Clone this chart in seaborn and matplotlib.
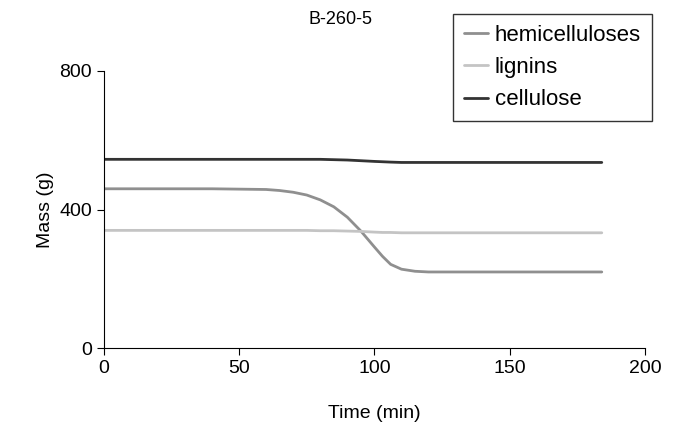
import matplotlib
matplotlib.use("Agg")
import matplotlib.pyplot as plt
import pandas as pd
import seaborn as sns

sns.set_style("ticks", {"text.color": "black", "axes.labelcolor": "black",
                        "xtick.color": "black", "ytick.color": "black",
                        "axes.edgecolor": "black"})
plt.rcParams["font.family"] = ["Liberation Sans", "DejaVu Sans"]

time = [0, 20, 40, 60, 65, 70, 75, 80, 85, 90, 95, 100, 103, 106, 110, 115, 120, 140, 160, 184]
hemicelluloses = [460, 460, 460, 458, 455, 450, 442, 428, 408, 378, 338, 292, 265, 242, 228, 222, 220, 220, 220, 220]
lignins = [340, 340, 340, 340, 340, 340, 340, 339, 339, 338, 337, 335, 334, 334, 333, 333, 333, 333, 333, 333]
cellulose = [545, 545, 545, 545, 545, 545, 545, 545, 544, 543, 541, 539, 538, 537, 536, 536, 536, 536, 536, 536]

df = pd.DataFrame({"time": time, "hemicelluloses": hemicelluloses,
                   "lignins": lignins, "cellulose": cellulose})
long = df.melt(id_vars="time", var_name="component", value_name="mass")

colors = {"hemicelluloses": "#8f8f8f", "lignins": "#c4c4c4", "cellulose": "#333333"}

fig = plt.figure(figsize=(6.87, 4.38), dpi=100)
ax = fig.add_axes([0.151, 0.205, 0.788, 0.633])
sns.lineplot(data=long, x="time", y="mass", hue="component",
             palette=colors, linewidth=2, ax=ax, legend=False)

ax.set_xlim(0, 200)
ax.set_ylim(0, 800)
ax.set_xticks([0, 50, 100, 150, 200])
ax.set_yticks([0, 400, 800])
ax.tick_params(labelsize=14, length=5)
for s in ["top", "right"]:
    ax.spines[s].set_visible(False)
ax.set_xlabel("Time (min)", fontsize=14, labelpad=20)
ax.set_ylabel("Mass (g)", fontsize=14)
fig.text(0.495, 0.955, "B-260-5", ha="center", va="center", fontsize=13)

handles = [plt.Line2D([], [], color=c, lw=2) for c in colors.values()]
leg = fig.legend(handles, list(colors.keys()),
                 loc="upper left", bbox_to_anchor=(0.659, 0.968), fontsize=16,
                 frameon=True, fancybox=False, edgecolor="black", handlelength=1.1,
                 handletextpad=0.3, borderpad=0.5, labelspacing=0.5, borderaxespad=0)
leg.get_frame().set_linewidth(1)

fig.savefig("out.png", dpi=100)
